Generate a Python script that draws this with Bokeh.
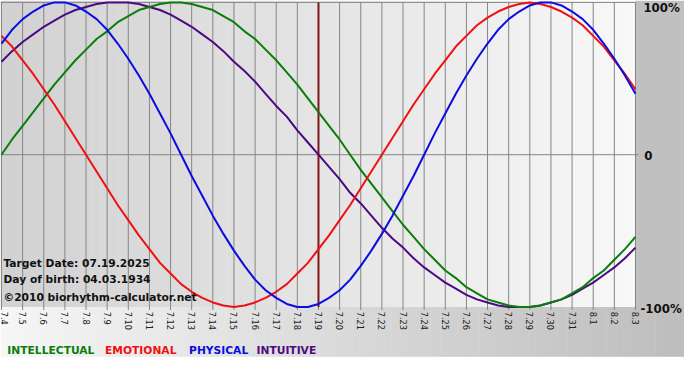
import numpy as np
from bokeh.plotting import figure
from bokeh.models import Range1d, ColumnDataSource
from bokeh.core.properties import value
from bokeh.embed import file_html
from bokeh.resources import INLINE

# ---------------- data ----------------
days = ["7.4", "7.5", "7.6", "7.7", "7.8", "7.9", "7.10", "7.11", "7.12", "7.13",
        "7.14", "7.15", "7.16", "7.17", "7.18", "7.19", "7.20", "7.21", "7.22", "7.23",
        "7.24", "7.25", "7.26", "7.27", "7.28", "7.29", "7.30", "7.31", "8.1", "8.2", "8.3"]
target_day = "7.19"

# curve readings every half day, starting at 7.4
intellectual = [0.00, 0.10, 0.19, 0.28, 0.37, 0.46, 0.54, 0.62, 0.69, 0.76, 0.81,
                0.87, 0.91, 0.95, 0.97, 0.99, 1.00, 1.00, 0.99, 0.97, 0.95,
                0.91, 0.87, 0.81, 0.76, 0.69, 0.62, 0.54, 0.46, 0.37, 0.28,
                0.19, 0.10, 0.00, -0.10, -0.19, -0.28, -0.37, -0.46, -0.54, -0.62,
                -0.69, -0.76, -0.81, -0.87, -0.91, -0.95, -0.97, -0.99, -1.00, -1.00,
                -0.99, -0.97, -0.95, -0.91, -0.87, -0.81, -0.76, -0.69, -0.62, -0.54]
emotional = [0.78, 0.71, 0.62, 0.53, 0.43, 0.33, 0.22, 0.11, 0.00, -0.11, -0.22,
             -0.33, -0.43, -0.53, -0.62, -0.71, -0.78, -0.85, -0.90, -0.94, -0.97,
             -0.99, -1.00, -0.99, -0.97, -0.94, -0.90, -0.85, -0.78, -0.71, -0.62,
             -0.53, -0.43, -0.33, -0.22, -0.11, 0.00, 0.11, 0.22, 0.33, 0.43,
             0.53, 0.62, 0.71, 0.78, 0.85, 0.90, 0.94, 0.97, 0.99, 1.00,
             0.99, 0.97, 0.94, 0.90, 0.85, 0.78, 0.71, 0.62, 0.53, 0.43]
physical = [0.73, 0.82, 0.89, 0.94, 0.98, 1.00, 1.00, 0.98, 0.94, 0.89, 0.82,
            0.73, 0.63, 0.52, 0.40, 0.27, 0.14, 0.00, -0.14, -0.27, -0.40,
            -0.52, -0.63, -0.73, -0.82, -0.89, -0.94, -0.98, -1.00, -1.00, -0.98,
            -0.94, -0.89, -0.82, -0.73, -0.63, -0.52, -0.40, -0.27, -0.14, 0.00,
            0.14, 0.27, 0.40, 0.52, 0.63, 0.73, 0.82, 0.89, 0.94, 0.98,
            1.00, 1.00, 0.98, 0.94, 0.89, 0.82, 0.73, 0.63, 0.52, 0.40]
intuitive = [0.61, 0.68, 0.74, 0.79, 0.84, 0.88, 0.92, 0.95, 0.97, 0.99, 1.00,
             1.00, 1.00, 0.99, 0.97, 0.95, 0.92, 0.88, 0.84, 0.79, 0.74,
             0.68, 0.61, 0.55, 0.48, 0.40, 0.32, 0.25, 0.16, 0.08, 0.00,
             -0.08, -0.16, -0.25, -0.32, -0.40, -0.48, -0.55, -0.61, -0.68, -0.74,
             -0.79, -0.84, -0.88, -0.92, -0.95, -0.97, -0.99, -1.00, -1.00, -1.00,
             -0.99, -0.97, -0.95, -0.92, -0.88, -0.84, -0.79, -0.74, -0.68, -0.61]

pct_ticks = [1, 0, -1]
pct_labels = ["100%", "0", "-100%"]
legend_names = ["INTELLECTUAL", "EMOTIONAL", "PHYSICAL", "INTUITIVE"]
info_lines = ["Target Date: 07.19.2025", "Day of birth: 04.03.1934",
              "\u00a92010 biorhythm-calculator.net"]

n_samples = 2 * (len(days) - 1) + 1
for s in (intellectual, emotional, physical, intuitive):
    assert len(s) == n_samples, len(s)

# ---------------- styling / layout ----------------
C_INT = "#0b7d0b"
C_EMO = "#f01010"
C_PHY = "#0c0ce0"
C_ITU = "#4b0a82"
series_colors = [C_INT, C_EMO, C_PHY, C_ITU]

W, H = 684, 364
X0, X1 = -0.047, 32.32
Y0, Y1 = -1.3775, 1.0125
ppx = W / (X1 - X0)   # pixels per day
ppy = H / (Y1 - Y0)   # pixels per unit


def rx(px):  # horizontal position in the original layout -> days
    return (px - 1) / 21.63


def ry(py):  # vertical position in the original layout -> value
    return (161 - py) / 159


xs = list(range(len(days)))
xlast = xs[-1]
t = [i / 2 for i in range(n_samples)]   # half-day sample offsets from 7.4

p = figure(width=W, height=H, output_backend="svg", toolbar_location=None,
           x_range=Range1d(X0, X1), y_range=Range1d(Y0, Y1),
           x_axis_location=None, y_axis_location=None,
           min_border=0, min_border_left=0, min_border_right=0,
           min_border_top=0, min_border_bottom=0,
           outline_line_color=None, background_fill_color="white",
           border_fill_color="white")
p.grid.visible = False

# plot area gradient (left gray -> right near white)
n = 70
edges = np.linspace(X0, xlast, n + 1)
shades = np.linspace(0xd2, 0xf8, n).astype(int)
cols = ["#%02x%02x%02x" % (s, s, s) for s in shades]
p.quad(left=edges[:-1], right=edges[1:] + 0.02, bottom=-1, top=Y1,
       fill_color=cols, line_color=None)

# bottom band gradient (white -> gray)
edges2 = np.linspace(X0, X1, n + 1)
shades2 = np.linspace(0xf6, 0xbe, n).astype(int)
cols2 = ["#%02x%02x%02x" % (s, s, s) for s in shades2]
p.quad(left=edges2[:-1], right=edges2[1:] + 0.02, bottom=ry(372), top=-1,
       fill_color=cols2, line_color=None)

# right strip
p.quad(left=[xlast], right=[X1], bottom=[-1], top=[Y1],
       fill_color="#c0c0c0", line_color=None)

# grid lines
p.segment(x0=xs, y0=-1 - 3 / ppy, x1=xs, y1=1, line_color="#858585", line_width=1)
p.segment(x0=[X0], y0=[1], x1=[xlast], y1=[1], line_color="#858585", line_width=1)
p.segment(x0=[X0], y0=[0], x1=[xlast + 3 / ppx], y1=[0], line_color="#858585", line_width=1)

# target day line
ti = days.index(target_day)
p.segment(x0=[ti], y0=[-1], x1=[ti], y1=[1], line_color="#7e1818", line_width=2)

# curves
for vals, c in [(intuitive, C_ITU), (intellectual, C_INT), (emotional, C_EMO), (physical, C_PHY)]:
    p.line(t, vals, line_color=c, line_width=2, line_join="round")

# x tick labels (rotated)
lab_x = [x + (3 / ppx if i == 0 else 0) for i, x in enumerate(xs)]
p.text(x=lab_x, y=[ry(325)] * len(xs), text=days, angle=-np.pi / 2,
       text_align="left", text_baseline="middle",
       text_font=value("DejaVu Sans"), text_font_size="8.2px", text_color="#222222")

# right percentage labels
pct_x = [rx(v) for v in (658, 659, 655)]
pct_y = [ry(v) for v in (8, 162, 322)]
p.text(x=pct_x, y=pct_y, text=pct_labels, text_align="left", text_baseline="middle",
       text_font=value("DejaVu Sans"), text_font_style="bold", text_font_size="11.8px",
       text_color="#111111")

# info text block
info_y = [ry(b) for b in (275, 291, 310)]
p.text(x=[rx(3)] * 3, y=info_y, text=info_lines, text_align="left",
       text_baseline="alphabetic", text_font=value("DejaVu Sans"),
       text_font_style="bold", text_font_size="10.7px", text_color="#111111")

# legend row
leg_px = [7, 107, 193, 262]
src = ColumnDataSource(dict(x=[rx(px) for px in leg_px],
                            y=[ry(365.5)] * 4,
                            t=legend_names, c=series_colors))
p.text(x="x", y="y", text="t", text_color="c", source=src, text_align="left",
       text_baseline="alphabetic", text_font=value("DejaVu Sans"),
       text_font_style="bold", text_font_size="10.7px")

open("out.html", "w").write(file_html(p, INLINE))
